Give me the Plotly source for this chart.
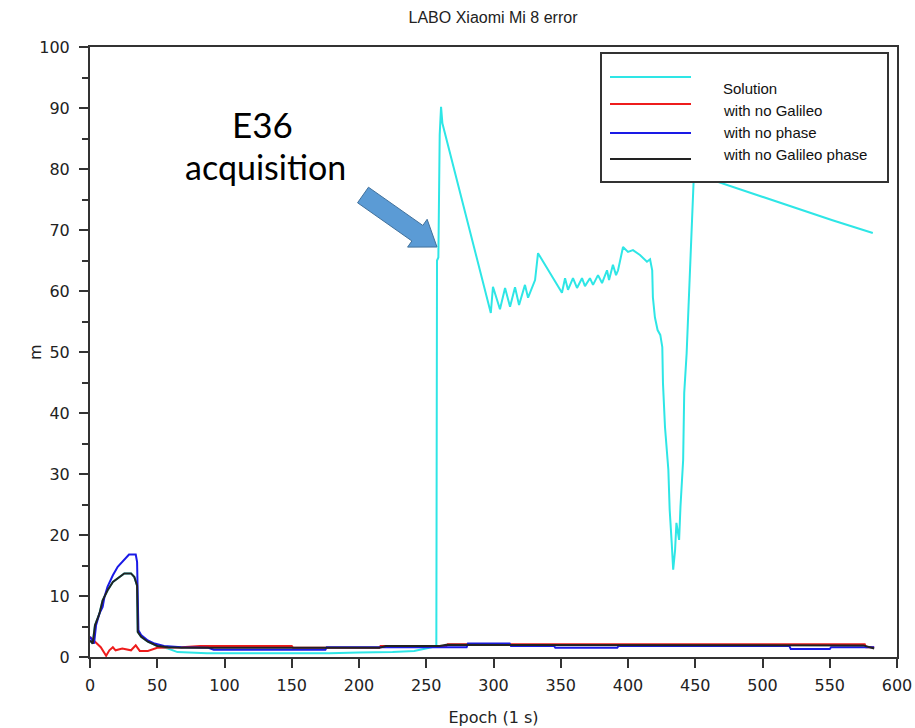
import plotly.graph_objects as go

# ---------------- data ----------------
series_names = ["Solution", "with no Galileo", "with no phase", "with no Galileo phase"]
series_colors = ["#2ee6e6", "#ee1c1c", "#1a1ae6", "#222222"]

sol_x = [0, 2, 3.7, 7, 9.4, 13, 17, 22, 25.5, 30.5, 33, 35, 35.5, 38, 43, 50, 58, 65, 75, 87,
         120, 178, 200, 211, 225, 241, 248, 254, 256.5, 257.5, 258, 259, 260, 261, 262, 270, 280,
         298, 299.6, 304.8, 308.6, 312.3, 316, 319, 323.4, 325.7, 330.9, 333.1, 350.9, 353.2,
         355.4, 359.1, 362.1, 365.8, 368, 371.7, 374, 377.7, 380.7, 384.4, 385.9, 388.8, 391.1,
         392.6, 396.3, 400, 403.7, 408.9, 414.1, 416.4, 418, 418.5, 420, 422, 424, 425, 425.5,
         426, 427.5, 430, 431, 432.5, 433.6, 435, 436, 438, 439, 441, 441.8, 443.6, 444.8, 446,
         447.5, 449, 552, 582]
sol_y = [2.7, 2.2, 5.2, 7.1, 9.3, 10.9, 12.3, 13.2, 13.7, 13.7, 13.1, 11.7, 4.1, 3.3, 2.5, 1.8,
         1.4, 0.8, 0.7, 0.6, 0.6, 0.6, 0.75, 0.75, 0.8, 1.0, 1.3, 1.6, 1.8, 1.8, 65, 65.5, 85.6,
         90.2, 87.5, 80.5, 72.0, 56.4, 60.7, 57.0, 60.5, 57.4, 60.6, 57.7, 61.0, 58.9, 61.8, 66.2,
         59.7, 62.1, 60.2, 62.1, 60.5, 62.1, 60.8, 62.1, 61.0, 62.6, 61.3, 63.4, 61.8, 64.3, 62.6,
         63.4, 67.2, 66.4, 66.7, 65.9, 64.8, 65.2, 63.4, 59.0, 55.7, 53.6, 52.8, 51.5, 50.8, 44.9,
         37.7, 30.7, 24.1, 18.7, 14.3, 17.5, 22.0, 19.2, 24.6, 32.3, 43.3, 49.8, 56.4, 63.9, 71.6,
         79.2, 71.6, 69.5]

nogal_x = [0, 3, 8, 12, 14.4, 17, 19, 24, 30.5, 34, 37, 43, 50, 68, 82, 150, 151, 215, 216,
           265, 266, 400, 576, 577, 583]
nogal_y = [3.3, 2.7, 1.6, 0.2, 1.1, 1.6, 1.1, 1.4, 1.1, 1.9, 1.0, 1.0, 1.5, 1.6, 1.8, 1.8, 1.5,
           1.5, 1.8, 1.8, 2.1, 2.1, 2.1, 1.6, 1.6]

nophase_x = [0, 3, 4.5, 7, 9.4, 10.7, 13, 17, 20.6, 24, 29, 34, 35, 36, 38, 43, 48, 55, 68, 88,
             92, 175, 176, 280, 281, 312, 313, 345, 346, 392, 393, 520, 521, 550, 551, 583]
nophase_y = [3.3, 2.2, 5.2, 7.1, 8.2, 9.8, 11.5, 13.4, 14.8, 15.6, 16.8, 16.8, 15.6, 4.4, 3.6,
             2.7, 2.2, 1.8, 1.6, 1.5, 1.2, 1.2, 1.6, 1.6, 2.2, 2.2, 1.8, 1.8, 1.5, 1.5, 1.8, 1.8,
             1.3, 1.3, 1.6, 1.6]

nogalph_x = [0, 2, 3.7, 7, 9.4, 13, 17, 22, 25.5, 30.5, 33, 35, 35.5, 38, 43, 50, 58, 68, 100,
             215, 220, 260, 265, 400, 575, 583]
nogalph_y = [2.7, 2.2, 5.2, 7.1, 9.3, 10.9, 12.3, 13.2, 13.7, 13.7, 13.1, 11.7, 4.1, 3.3, 2.5,
             1.8, 1.6, 1.5, 1.5, 1.5, 1.8, 1.8, 2.0, 2.0, 1.9, 1.4]

x_ticks = [0, 50, 100, 150, 200, 250, 300, 350, 400, 450, 500, 550, 600]
y_ticks = [0, 10, 20, 30, 40, 50, 60, 70, 80, 90, 100]

title_text = "LABO Xiaomi Mi 8 error"
x_title = "Epoch (1 s)"
y_title = "m"
note_lines = ["E36", "acquisition"]

# ---------------- geometry ----------------
W, H = 915, 728
PL, PR, PT, PB = 90, 897, 47, 657


def px(xp):
    return (xp - PL) / (PR - PL)


def py(yp):
    return (PB - yp) / (PB - PT)


fig = go.Figure()
all_x = [sol_x, nogal_x, nophase_x, nogalph_x]
all_y = [sol_y, nogal_y, nophase_y, nogalph_y]
for name, col, xs, ys in zip(series_names, series_colors, all_x, all_y):
    fig.add_trace(go.Scatter(x=xs, y=ys, mode="lines", name=name,
                             line=dict(color=col, width=2), showlegend=False))

axis_common = dict(showgrid=False, zeroline=False, showline=True, linecolor="#333333",
                   linewidth=2, mirror=True, ticks="outside", tickcolor="#333333",
                   tickwidth=2, tickfont=dict(family="DejaVu Sans", size=16, color="#222222"))

fig.update_xaxes(range=[0, 600], tickvals=x_ticks, ticklen=9, ticklabelstandoff=4,
                 title=dict(text=x_title, font=dict(family="DejaVu Sans", size=16, color="#222222"),
                            standoff=18),
                 **axis_common)
fig.update_yaxes(range=[0, 100], tickvals=y_ticks, ticklen=9, ticklabelstandoff=6,
                 minor=dict(dtick=5, ticks="outside", ticklen=6, tickcolor="#333333", tickwidth=2),
                 **axis_common)

shapes = []
annotations = []

# y axis title placed like the original
annotations.append(dict(xref="paper", yref="paper", x=px(35), y=py(352), text=y_title,
                        showarrow=False, textangle=-90, xanchor="center", yanchor="middle",
                        font=dict(family="DejaVu Sans", size=16, color="#222222")))

# legend box (drawn by hand so the sample lines match the original)
shapes.append(dict(type="rect", xref="paper", yref="paper", x0=px(601), x1=px(888),
                   y0=py(182), y1=py(53), fillcolor="white",
                   line=dict(color="#333333", width=2), layer="above"))
leg_line_y = [77, 104, 133, 159]
leg_text_y = [88, 110, 132, 154]
for name, col, ly, ty in zip(series_names, series_colors, leg_line_y, leg_text_y):
    shapes.append(dict(type="line", xref="paper", yref="paper", x0=px(610), x1=px(691),
                       y0=py(ly), y1=py(ly), line=dict(color=col, width=2), layer="above"))
    annotations.append(dict(xref="paper", yref="paper", x=px(721), y=py(ty), text=name,
                            showarrow=False, xanchor="left", yanchor="middle",
                            font=dict(family="Liberation Sans", size=15, color="#111111")))

# block arrow pointing to the acquisition jump
tail = (363.0, 195.0)
tip = (437.0, 247.0)
dx, dy = tip[0] - tail[0], tip[1] - tail[1]
ln = (dx ** 2 + dy ** 2) ** 0.5
ux, uy = dx / ln, dy / ln
nx, ny = -uy, ux
head_len, head_hw, shaft_hw = 24.0, 17.0, 9.5
bx, by = tip[0] - head_len * ux, tip[1] - head_len * uy
pts = [
    (tail[0] + shaft_hw * nx, tail[1] + shaft_hw * ny),
    (bx + shaft_hw * nx, by + shaft_hw * ny),
    (bx + head_hw * nx, by + head_hw * ny),
    tip,
    (bx - head_hw * nx, by - head_hw * ny),
    (bx - shaft_hw * nx, by - shaft_hw * ny),
    (tail[0] - shaft_hw * nx, tail[1] - shaft_hw * ny),
]
path = "M " + " L ".join(f"{px(a):.5f},{py(b):.5f}" for a, b in pts) + " Z"
shapes.append(dict(type="path", xref="paper", yref="paper", path=path,
                   fillcolor="#5b9bd5", line=dict(color="#41719c", width=1), layer="above"))

annotations.append(dict(xref="paper", yref="paper", x=px(262), y=py(124), text=note_lines[0],
                        showarrow=False, xanchor="center", yanchor="middle",
                        font=dict(family="Lato", size=35, color="black")))
annotations.append(dict(xref="paper", yref="paper", x=px(265), y=py(166), text=note_lines[1],
                        showarrow=False, xanchor="center", yanchor="middle",
                        font=dict(family="Lato", size=34, color="black")))

fig.update_layout(
    width=W, height=H,
    margin=dict(l=PL, r=W - PR, t=PT, b=H - PB, autoexpand=False),
    paper_bgcolor="white", plot_bgcolor="white",
    title=dict(text=title_text, x=px(493), xref="paper", y=1 - 17 / H, yanchor="middle",
               xanchor="center", font=dict(family="Liberation Sans", size=16, color="#222222")),
    shapes=shapes, annotations=annotations, showlegend=False,
)

fig.write_html("out.html")
